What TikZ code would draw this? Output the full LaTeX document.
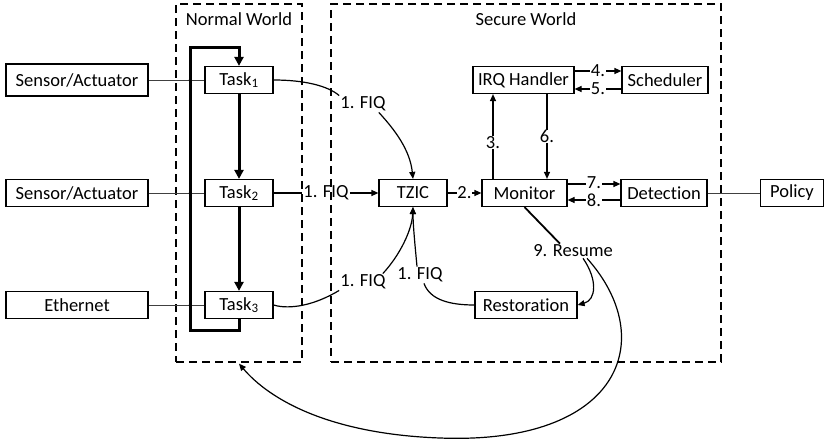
\documentclass[tikz,border=0pt]{standalone}
\usepackage{fontspec}
\setmainfont{Carlito}[Ligatures=NoCommon]
\usetikzlibrary{arrows.meta}
\tikzset{
  every node/.style={font=\fontsize{18.5}{20}\selectfont},
  box/.style={draw, line width=1.2pt, minimum height=27pt, inner sep=0pt, fill=white},
  world/.style={draw, line width=1.3pt, dash pattern=on 8pt off 5pt, inner sep=0pt},
  lbl/.style={fill=white, inner sep=0.5pt, text height=12pt, text depth=0.5pt},
  plain/.style={inner sep=1pt},
  arr/.style={line width=1.2pt, -{Triangle[length=7pt,width=6pt]}},
  conn/.style={line width=1.2pt},
  thin/.style={line width=0.8pt, draw=black!75},
  loop/.style={line width=3pt, line join=miter},
  looparr/.style={line width=3pt, -{Triangle[length=9pt,width=9pt]}},
}
\begin{document}
\begin{tikzpicture}[x=1pt,y=-1pt]
\useasboundingbox (0,0) rectangle (825,442);
% worlds
\node[world, minimum width=126pt, minimum height=358pt] (nw) at (239,183) {};
\node[world, minimum width=390pt, minimum height=358pt] (sw) at (526,183) {};
\node[plain] (nwt) at (239,19) {Normal World};
\node[plain] (swt) at (526,19) {Secure World};
% left boxes
\node[box, minimum width=142pt, minimum height=32pt] (s1) at (77,80) {Sensor/Actuator};
\node[box, minimum width=142pt] (s2) at (77,193) {Sensor/Actuator};
\node[box, minimum width=142pt] (eth) at (77,305) {Ethernet};
% tasks
\node[box, minimum width=68pt] (t1) at (239,80) {Task\textsubscript{1}};
\node[box, minimum width=68pt] (t2) at (239,193) {Task\textsubscript{2}};
\node[box, minimum width=68pt] (t3) at (239,305) {Task\textsubscript{3}};
% secure boxes
\node[box, minimum width=68pt] (tzic) at (413,193) {TZIC};
\node[box, minimum width=85pt] (mon) at (524.5,193) {Monitor};
\node[box, minimum width=101pt] (irq) at (523.5,80) {IRQ Handler};
\node[box, minimum width=86pt] (sch) at (665,80) {Scheduler};
\node[box, minimum width=86pt] (det) at (664,193) {Detection};
\node[box, minimum width=63pt] (pol) at (792,193) {Policy};
\node[box, minimum width=102pt] (rest) at (526,305) {Restoration};
% labels
\node[plain] (f1) at (363,104) {1. FIQ};
\node[plain] (f2) at (326,193) {1. FIQ};
\node[plain] (f3) at (363,282) {1. FIQ};
\node[plain] (f4) at (420,275) {1. FIQ};
\node[plain] (res) at (573,251) {9. Resume};
% sensor lines
\draw[thin] (s1.east) -- (t1.west);
\draw[thin] (s2.east) -- (t2.west);
\draw[thin] (eth.east) -- (t3.west);
\coordinate (lb) at (190,330);
\coordinate (lt) at (190,47);
% task loop
\draw[loop] (t3.south) |- (lb) -- (lt) -| ([yshift=8pt]t1.north);
\draw[looparr] ([yshift=9pt]t1.north) -- (t1.north);
\draw[looparr] (t1.south) -- (t2.north);
\draw[looparr] (t2.south) -- (t3.north);
\fill (190,80) circle (1.3pt);
\fill (190,193) circle (1.3pt);
\fill (190,305) circle (1.3pt);
% FIQ connectors
\draw[conn] (t1.east) .. controls (305,80) and (328,86) .. (f1.north west);
\draw[arr] ([xshift=-8pt]f1.south east) .. controls (395,130) and (410,150) .. (tzic.north);
\draw[conn] (t2.east) -- (f2.west);
\draw[arr] (f2.east) -- (tzic.west);
\draw[conn] (t3.east) .. controls (290,310) and (315,305) .. (f3.south west);
\draw[arr] ([xshift=-4pt]f3.north east) .. controls (400,255) and (412,230) .. (tzic.south);
\draw[conn] (rest.west) .. controls (450,305) and (430,300) .. ([xshift=4pt]f4.south);
\draw[arr] ([xshift=-3pt]f4.north) .. controls (415,245) and (413,225) .. (tzic.south);
% secure arrows
\draw[arr] (tzic.east) -- node[lbl]{2.} (mon.west);
\draw[arr] ([xshift=-31.5pt]mon.north) -- node[lbl,pos=0.43]{3.} ([xshift=-31.5pt]mon.north |- irq.south);
\draw[arr] ([xshift=23.5pt]irq.south) -- node[lbl]{6.} ([xshift=23.5pt]irq.south |- mon.north);
\draw[arr] ([yshift=9pt]irq.east) -- node[lbl]{4.} ([yshift=9pt]irq.east -| sch.west);
\draw[arr] ([yshift=-9pt]sch.west) -- node[lbl]{5.} ([yshift=-9pt]sch.west -| irq.east);
\draw[arr] ([yshift=9pt]mon.east) -- node[lbl, text height=10.5pt, text depth=0pt, yshift=1pt]{7.} ([yshift=9pt]mon.east -| det.west);
\draw[arr] ([yshift=-7pt]det.west) -- node[lbl, text height=10.5pt, text depth=0pt, yshift=-1pt]{8.} ([yshift=-7pt]det.west -| mon.east);
\draw[thin] (det.east) -- (pol.west);
% resume
\draw[line width=1.8pt] (mon.south) -- ([xshift=-13pt]res.north);
\draw[arr] ([xshift=10pt]res.south) .. controls (598,280) and (596,300) .. (rest.east);
\draw[line width=1.2pt] ([xshift=14pt]res.south) .. controls (660,340) and (620,445) .. (440,438)
  .. controls (330,434) and (270,400) .. ([yshift=-1pt]nw.south)
  [arrows={-{Triangle[length=7pt,width=6pt]}}];
\end{tikzpicture}
\end{document}
